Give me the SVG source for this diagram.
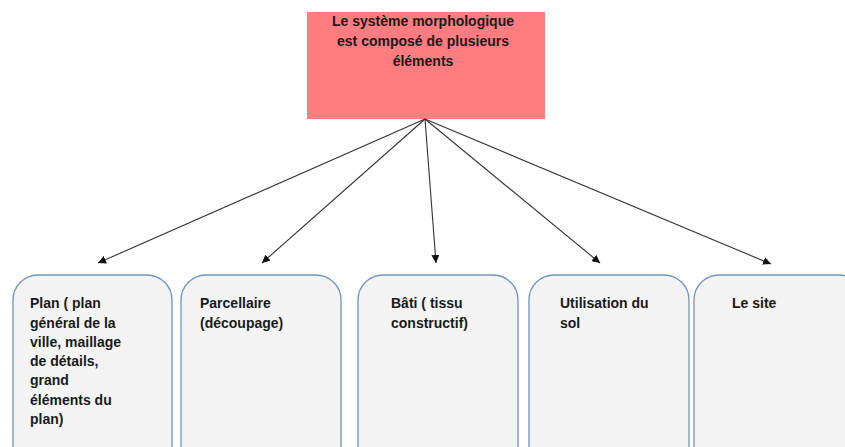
<svg xmlns="http://www.w3.org/2000/svg" width="845" height="447" viewBox="0 0 845 447">
<style>
text{font-family:"Liberation Sans",Arial,sans-serif;font-weight:bold;font-size:14px;fill:#1a1a1a}
.box{fill:#f4f4f4;stroke:#7094bf;stroke-width:1.3}
.conn line{stroke:#333;stroke-width:1.1;marker-end:url(#ah)}
</style>
<defs>
<marker id="ah" viewBox="0 0 10 10" refX="10" refY="5" markerWidth="8" markerHeight="8" markerUnits="userSpaceOnUse" orient="auto">
<path d="M0,0 L10,5 L0,10 z" fill="#111"/>
</marker>
</defs>
<rect width="845" height="447" fill="#fff"/>
<g id="root">
<rect x="307" y="12" width="238" height="107" fill="#ff7c80"/>
<text x="423" y="26" text-anchor="middle">Le système morphologique</text>
<text x="423" y="46" text-anchor="middle">est composé de plusieurs</text>
<text x="423" y="66" text-anchor="middle">éléments</text>
</g>
<g class="conn" id="connectors">
<line x1="425" y1="119" x2="98" y2="263"/>
<line x1="425" y1="119" x2="262" y2="263"/>
<line x1="425" y1="119" x2="436" y2="263"/>
<line x1="425" y1="119" x2="600" y2="263"/>
<line x1="425" y1="119" x2="771" y2="264"/>
</g>
<g id="plan">
<rect class="box" x="13" y="275" width="159" height="200" rx="25"/>
<text x="30" y="308">Plan ( plan</text>
<text x="30" y="327.5">général de la</text>
<text x="30" y="347">ville, maillage</text>
<text x="30" y="366">de détails,</text>
<text x="30" y="385">grand</text>
<text x="30" y="404.5">éléments du</text>
<text x="30" y="424">plan)</text>
</g>
<g id="parcellaire">
<rect class="box" x="181" y="275" width="160" height="200" rx="25"/>
<text x="200" y="308">Parcellaire</text>
<text x="200" y="328">(découpage)</text>
</g>
<g id="bati">
<rect class="box" x="358" y="275" width="160" height="200" rx="25"/>
<text x="391" y="308">Bâti ( tissu</text>
<text x="391" y="328">constructif)</text>
</g>
<g id="utilisation">
<rect class="box" x="529" y="275" width="160" height="200" rx="25"/>
<text x="560" y="308">Utilisation du</text>
<text x="560" y="328">sol</text>
</g>
<g id="site">
<rect class="box" x="694" y="275" width="170" height="200" rx="25"/>
<text x="732" y="308">Le site</text>
</g>
</svg>
